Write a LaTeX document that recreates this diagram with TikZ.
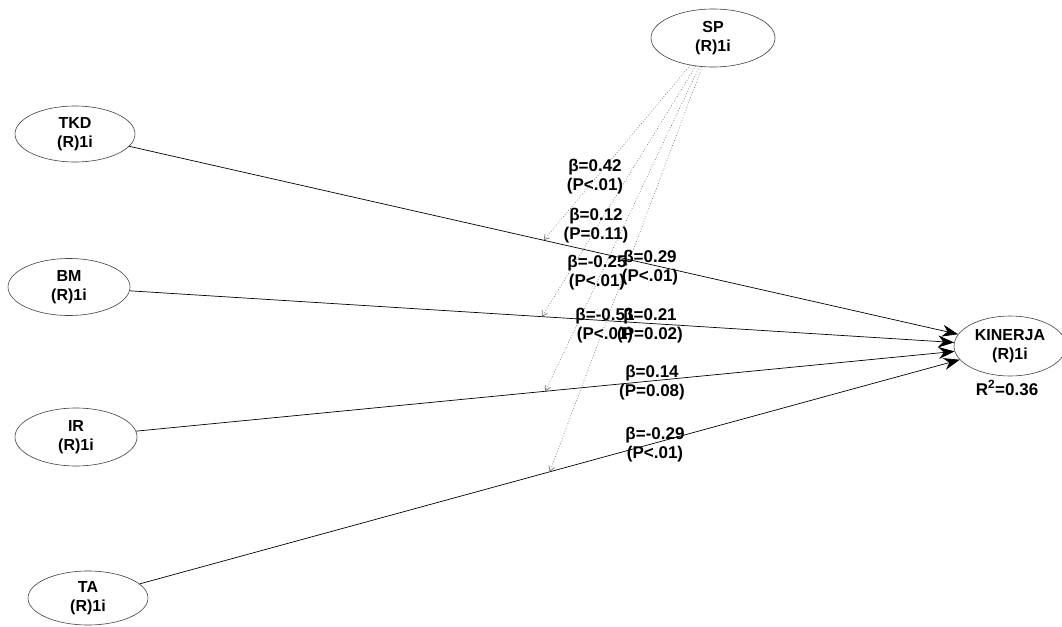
\documentclass[tikz,border=0pt]{standalone}
\usepackage{fontspec}
\setmainfont{Liberation Sans}
\usetikzlibrary{shapes.geometric,arrows.meta}
\tikzset{
  lv/.style={ellipse,draw=black!75,line width=0.6pt,inner sep=0pt,align=center,
    font=\fontsize{16}{19}\selectfont\bfseries},
  path/.style={draw=black,line width=0.7pt,-{Stealth[length=16pt,width=12pt]}},
  mod/.style={draw=black!55,line width=0.7pt,dotted,-{Straight Barb[length=5pt,width=6pt]}},
  lab/.style={align=center,inner sep=0pt,font=\fontsize{17}{19}\selectfont\bfseries}
}
\begin{document}
\begin{tikzpicture}[x=1pt,y=-1pt]
\useasboundingbox (0,0) rectangle (1062,626);
\node[lv,minimum width=124pt,minimum height=58pt] (SP) at (713,38) {SP\\(R)1i};
\node[lv,minimum width=120pt,minimum height=56pt] (TKD) at (75,134) {TKD\\(R)1i};
\node[lv,minimum width=122pt,minimum height=57pt] (BM) at (69,287) {BM\\(R)1i};
\node[lv,minimum width=122pt,minimum height=58pt] (IR) at (76,437) {IR\\(R)1i};
\node[lv,minimum width=120pt,minimum height=54pt] (TA) at (88,598) {TA\\(R)1i};
\node[lv,minimum width=112pt,minimum height=60pt] (KIN) at (1010,346) {KINERJA\\(R)1i};
\node[lab] (r2) at (1007,388) {R\textsuperscript{2}=0.36};

\draw[path] (TKD) -- (KIN) coordinate[pos=0.5] (m1);
\draw[path] (BM) -- (KIN) coordinate[pos=0.5] (m2);
\draw[path] (IR) -- (KIN) coordinate[pos=0.5] (m3);
\draw[path] (TA) -- (KIN) coordinate[pos=0.5] (m4);

\draw[mod] (SP) -- (m1);
\draw[mod] (SP) -- (m2);
\draw[mod] (SP) -- (m3);
\draw[mod] (SP) -- (m4);

\node[lab] (l1) at (595,177) {β=0.42\\(P<.01)};
\node[lab] (l2) at (596,226) {β=0.12\\(P=0.11)};
\node[lab] (l3) at (597,273) {β=-0.25\\(P<.01)};
\node[lab] (l4) at (650,268) {β=0.29\\(P<.01)};
\node[lab] (l5) at (605,326) {β=-0.51\\(P<.01)};
\node[lab] (l6) at (650,326) {β=0.21\\(P=0.02)};
\node[lab] (l7) at (652,383) {β=0.14\\(P=0.08)};
\node[lab] (l8) at (655,445) {β=-0.29\\(P<.01)};
\end{tikzpicture}
\end{document}
